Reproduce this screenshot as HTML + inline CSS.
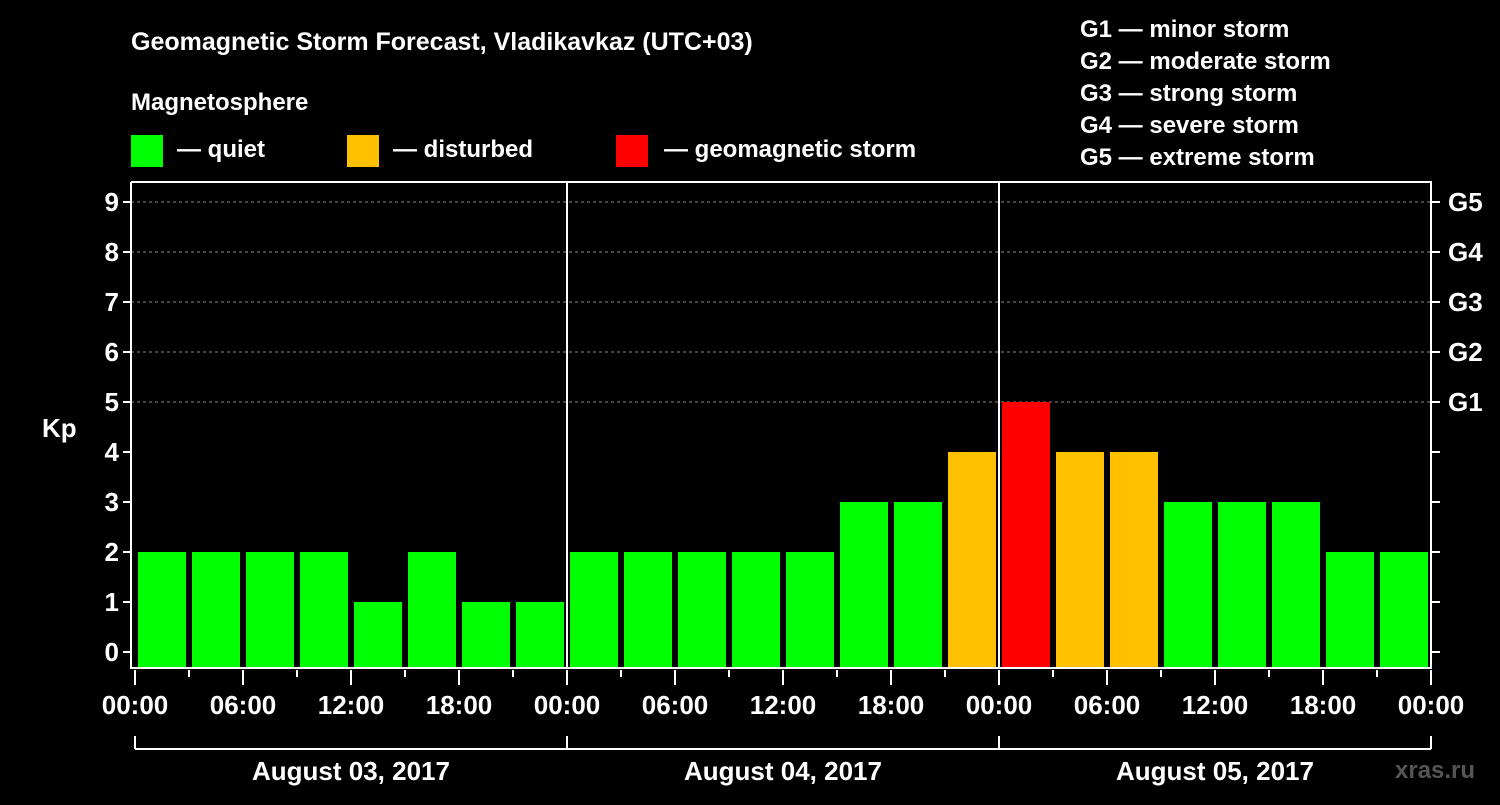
<!DOCTYPE html>
<html><head><meta charset="utf-8"><style>
body{margin:0;background:#000;}
svg text{font-family:"Liberation Sans",Arial,sans-serif;font-weight:bold;fill:#fff;}
</style></head><body>
<svg width="1500" height="800" xmlns="http://www.w3.org/2000/svg">
<rect width="1500" height="800" fill="#000"/>
<text x="131" y="50" font-size="25">Geomagnetic Storm Forecast, Vladikavkaz (UTC+03)</text>
<text x="131" y="110" font-size="24">Magnetosphere</text>
<g><rect x="131" y="135" width="32" height="32" fill="#00ff00"/><text x="177" y="157" font-size="24">— quiet</text></g>
<g><rect x="347" y="135" width="32" height="32" fill="#ffc000"/><text x="393" y="157" font-size="24">— disturbed</text></g>
<g><rect x="616" y="135" width="32" height="32" fill="#ff0000"/><text x="664" y="157" font-size="24">— geomagnetic storm</text></g>
<g font-size="24">
<text x="1080" y="37">G1 — minor storm</text>
<text x="1080" y="69">G2 — moderate storm</text>
<text x="1080" y="101">G3 — strong storm</text>
<text x="1080" y="133">G4 — severe storm</text>
<text x="1080" y="165">G5 — extreme storm</text>
</g>
<text x="42" y="437" font-size="26">Kp</text>
<text x="1395" y="778" font-size="24" fill="#555" style="fill:#555">xras.ru</text>
<g id="plot"></g>
</svg>
<script>
const kpValues=[2,2,2,2,1,2,1,1, 2,2,2,2,2,3,3,4, 5,4,4,3,3,3,2,2];
const dayLabels=["August 03, 2017","August 04, 2017","August 05, 2017"];
const hourLabels=["00:00","06:00","12:00","18:00"];
const gLabels=["G1","G2","G3","G4","G5"];
const NS="http://www.w3.org/2000/svg";
const plot=document.getElementById('plot');
const X0=135,SLOT=54,Y0=652,UNIT=50,TOP=182,BOT=668,LEFT=131,RIGHT=1431;
const xs=i=>X0+i*SLOT, ys=v=>Y0-v*UNIT;
function mk(tag,attrs,parent){const e=document.createElementNS(NS,tag);for(const k in attrs)e.setAttribute(k,attrs[k]);(parent||plot).appendChild(e);return e;}
// grid
for(let v=5;v<=9;v++){const l=mk('line',{x1:LEFT,x2:RIGHT,y1:ys(v),y2:ys(v),stroke:'#888','stroke-dasharray':'3,3','stroke-width':1});

}
// bars
kpValues.forEach((v,i)=>{const c=v>=5?'#ff0000':v>=4?'#ffc000':'#00ff00';
const r=mk('rect',{x:xs(i)+3,y:ys(v),width:48,height:BOT-ys(v),fill:c});

});
// axes box
const box=mk('path',{d:`M${LEFT},${TOP}V${BOT}H${RIGHT}V${TOP}H${LEFT}`,stroke:'#fff','stroke-width':2,fill:'none'});


for(let d=1;d<3;d++){const l=mk('line',{x1:xs(d*8),x2:xs(d*8),y1:TOP,y2:BOT,stroke:'#fff','stroke-width':2});

}
// y ticks
for(let v=0;v<=9;v++){mk('line',{x1:LEFT-8,x2:LEFT,y1:ys(v),y2:ys(v),stroke:'#fff','stroke-width':2});
mk('line',{x1:RIGHT,x2:RIGHT+9,y1:ys(v),y2:ys(v),stroke:'#fff','stroke-width':2});
const t=mk('text',{x:LEFT-12,y:ys(v)+9,'text-anchor':'end','font-size':26});t.textContent=v;

}
gLabels.forEach((g,i)=>{const t=mk('text',{x:1448,y:ys(5+i)+9,'font-size':26});t.textContent=g;

});
// x ticks
for(let i=0;i<=24;i++){const major=i%2===0;
mk('line',{x1:xs(i),x2:xs(i),y1:BOT+2,y2:BOT+(major?17:9),stroke:'#fff','stroke-width':2});
if(major){const t=mk('text',{x:xs(i),y:714,'text-anchor':'middle','font-size':26});t.textContent=hourLabels[(i/2)%4];

}}
// day bracket
mk('line',{x1:xs(0),x2:xs(24),y1:749,y2:749,stroke:'#fff','stroke-width':2});
for(let d=0;d<=3;d++)mk('line',{x1:xs(d*8),x2:xs(d*8),y1:736,y2:749,stroke:'#fff','stroke-width':2});
dayLabels.forEach((s,d)=>{const t=mk('text',{x:xs(d*8+4),y:780,'text-anchor':'middle','font-size':26});t.textContent=s;

});
</script>
</body></html>
